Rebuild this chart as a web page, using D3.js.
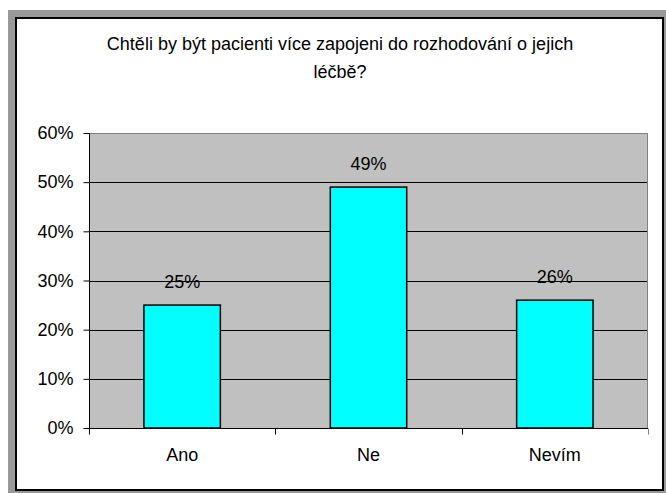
<!DOCTYPE html>
<html><head><meta charset="utf-8">
<script src="https://cdn.jsdelivr.net/npm/d3@7"></script>
<style>html,body{margin:0;padding:0;background:#fff;}svg{display:block;}</style>
</head><body>
<script>
const categories = ["Ano", "Ne", "Nevím"];
const values = [25, 49, 26];
const yTicks = [0, 10, 20, 30, 40, 50, 60];
const titleLines = ["Chtěli by být pacienti více zapojeni do rozhodování o jejich", "léčbě?"];

const W = 666, H = 493, FS = 18;
const FONT = "'Liberation Sans', Arial, sans-serif";
const svg = d3.select("body").append("svg").attr("width", W).attr("height", H)
  .style("font-family", FONT);

svg.append("rect").attr("x", 8).attr("y", 10).attr("width", W - 8).attr("height", H - 10).attr("fill", "#999999");
svg.append("rect").attr("x", 16).attr("y", 18).attr("width", 647).attr("height", 472)
  .attr("fill", "#fff").attr("stroke", "#000").attr("stroke-width", 2);

const L = 89, R = 648, T = 133, B = 428;
const x = d3.scaleBand().domain(categories).range([L, R]).padding(0);
const y = d3.scaleLinear().domain([0, 60]).range([B, T]);

svg.append("rect").attr("x", L).attr("y", T).attr("width", R - L).attr("height", B - T).attr("fill", "#C0C0C0");

// gridlines
svg.append("g").selectAll("line").data(yTicks.filter(d => d > 0 && d < 60)).join("line")
  .attr("x1", L).attr("x2", R).attr("y1", d => Math.round(y(d)) + 0.5).attr("y2", d => Math.round(y(d)) + 0.5)
  .attr("stroke", "#000").attr("stroke-width", 1);
// plot border top/right gray
svg.append("path").attr("d", `M${L},${T + 0.5}H${R - 0.5}V${B}`).attr("fill", "none").attr("stroke", "#808080").attr("stroke-width", 1);

// bars
const bw = x.bandwidth() * 0.41;
svg.append("g").selectAll("rect").data(values).join("rect")
  .attr("x", (d, i) => x(categories[i]) + x.bandwidth() / 2 - bw / 2)
  .attr("y", d => y(d))
  .attr("width", bw)
  .attr("height", d => B - y(d))
  .attr("fill", "#00FFFF").attr("stroke", "#000").attr("stroke-width", 1.5);

// data labels
svg.append("g").selectAll("text").data(values).join("text")
  .attr("x", (d, i) => x(categories[i]) + x.bandwidth() / 2)
  .attr("y", d => y(d) - 17)
  .attr("text-anchor", "middle").attr("font-size", FS).attr("fill", "#000")
  .text(d => d + "%");

// y axis
const yAxis = d3.axisLeft(y).tickValues(yTicks).tickFormat(d => d + "%").tickSize(6).tickPadding(10);
const gy = svg.append("g").attr("transform", `translate(${L + 0.5},0)`).call(yAxis);
gy.select(".domain").attr("stroke", "#000").attr("d", `M0,${T}V${B}`);
gy.selectAll(".tick line").attr("stroke", "#000");
gy.selectAll(".tick text").attr("font-size", FS).attr("font-family", FONT).attr("fill", "#000");

// x axis
const gx = svg.append("g").attr("transform", `translate(0,${B + 0.5})`);
gx.append("line").attr("x1", L).attr("x2", R).attr("stroke", "#000");
const bounds = categories.map(c => x(c)).concat([R]);
gx.selectAll("line.tk").data(bounds).join("line").attr("class", "tk")
  .attr("x1", d => Math.round(d) + 0.5).attr("x2", d => Math.round(d) + 0.5).attr("y1", 0).attr("y2", 6)
  .attr("stroke", (d, i) => i === bounds.length - 1 ? "#808080" : "#000");
gx.selectAll("text").data(categories).join("text")
  .attr("x", d => x(d) + x.bandwidth() / 2).attr("y", 32)
  .attr("text-anchor", "middle").attr("font-size", FS).attr("fill", "#000").text(d => d);

// title
svg.append("g").selectAll("text").data(titleLines).join("text")
  .attr("x", 340).attr("y", (d, i) => 50 + i * 28)
  .attr("text-anchor", "middle").attr("font-size", FS).attr("fill", "#000").text(d => d);
</script>
</body></html>
